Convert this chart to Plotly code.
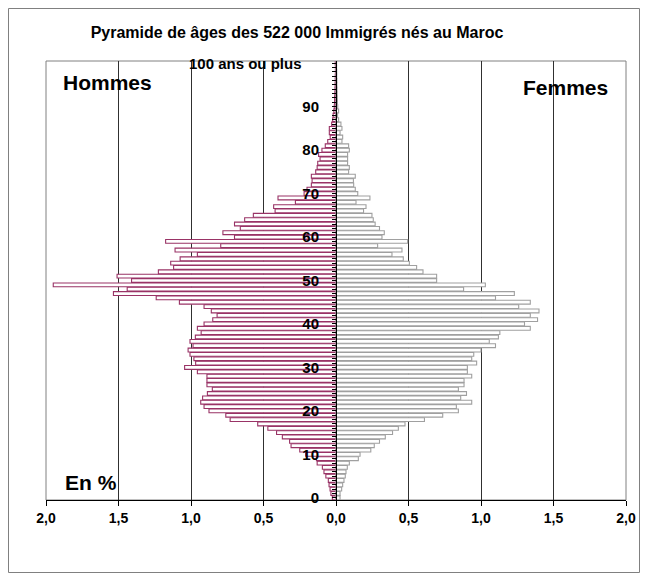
import plotly.graph_objects as go

ages = list(range(0, 101))

hommes = [
    0.025, 0.035, 0.041, 0.048, 0.053, 0.070, 0.083, 0.094, 0.130, 0.135,
    0.210, 0.250, 0.310, 0.320, 0.370, 0.410, 0.470, 0.540, 0.730, 0.760,
    0.876, 0.910, 0.933, 0.920, 0.887, 0.853, 0.890, 0.890, 0.890, 0.956,
    1.044, 0.968, 0.980, 1.007, 1.020, 0.986, 1.007, 0.970, 0.930, 0.956,
    0.910, 0.850, 0.820, 0.860, 0.910, 1.080, 1.240, 1.535, 1.440, 1.950,
    1.410, 1.510, 1.225, 1.120, 1.140, 1.075, 0.956, 1.110, 0.795, 1.175,
    0.700, 0.780, 0.660, 0.700, 0.630, 0.570, 0.420, 0.430, 0.280, 0.400,
    0.220, 0.200, 0.170, 0.165, 0.170, 0.140, 0.130, 0.126, 0.110, 0.120,
    0.097, 0.074, 0.057, 0.040, 0.046, 0.046, 0.030, 0.023, 0.020, 0.015,
    0.012, 0.010, 0.010, 0.008, 0.007, 0.006, 0.005, 0.005, 0.004, 0.004,
    0.005,
]

femmes = [
    0.028, 0.028, 0.039, 0.046, 0.055, 0.064, 0.069, 0.078, 0.092, 0.154,
    0.166, 0.240, 0.264, 0.300, 0.340, 0.390, 0.430, 0.476, 0.610, 0.736,
    0.844, 0.830, 0.936, 0.860, 0.900, 0.844, 0.883, 0.883, 0.936, 0.906,
    0.906, 0.970, 0.936, 0.950, 1.000, 1.100, 1.057, 1.120, 1.130, 1.340,
    1.300, 1.390, 1.340, 1.400, 1.260, 1.340, 1.100, 1.230, 0.880, 1.030,
    0.694, 0.694, 0.600, 0.556, 0.506, 0.464, 0.386, 0.455, 0.287, 0.494,
    0.317, 0.333, 0.300, 0.270, 0.257, 0.248, 0.190, 0.207, 0.138, 0.234,
    0.150, 0.133, 0.122, 0.120, 0.133, 0.087, 0.092, 0.080, 0.080, 0.080,
    0.092, 0.087, 0.041, 0.046, 0.028, 0.041, 0.034, 0.018, 0.011, 0.018,
    0.012, 0.010, 0.009, 0.008, 0.007, 0.006, 0.006, 0.005, 0.005, 0.004,
    0.004,
]

age_labels = {a: str(a) for a in range(0, 100, 10)}
top_label = "100 ans ou plus"

x_ticks = [-2.0, -1.5, -1.0, -0.5, 0.0, 0.5, 1.0, 1.5, 2.0]
x_ticktext = ["2,0", "1,5", "1,0", "0,5", "0,0", "0,5", "1,0", "1,5", "2,0"]

FONT = "Liberation Sans, Arial, sans-serif"
MEN_COLOR = "#993366"
WOMEN_COLOR = "#A0A0A0"

W, H = 648, 581
L, R, T, B = 46, 22, 61, 81
PW, PH = W - L - R, H - T - B  # 580 x 439


def px(xpage):
    return (xpage - L) / PW


def py(ypage):
    return (H - B - ypage) / PH


fig = go.Figure()
fig.add_trace(go.Bar(
    y=ages, x=[-v for v in hommes], orientation="h", name="Hommes",
    marker=dict(color="white", line=dict(color=MEN_COLOR, width=1.1)),
    hoverinfo="skip",
))
fig.add_trace(go.Bar(
    y=ages, x=femmes, orientation="h", name="Femmes",
    marker=dict(color="white", line=dict(color=WOMEN_COLOR, width=1.1)),
    hoverinfo="skip",
))

tickvals = ages
ticktext = [age_labels.get(a, "") for a in ages]

fig.update_layout(
    width=W, height=H,
    margin=dict(l=L, r=R, t=T, b=B, autoexpand=False),
    paper_bgcolor="white", plot_bgcolor="white",
    barmode="overlay", bargap=0.12,
    showlegend=False,
    font=dict(family=FONT, color="black"),
    xaxis=dict(
        range=[-2.0, 2.0], tickvals=x_ticks, ticktext=x_ticktext,
        showgrid=True, gridcolor="#303030", gridwidth=1,
        zeroline=False, showline=True, linecolor="black", linewidth=1,
        ticks="outside", ticklen=5, tickcolor="black",
        tickfont=dict(family=FONT, size=14, weight="bold"),
        fixedrange=True,
    ),
    yaxis=dict(
        range=[-0.5, 100.5], tickvals=tickvals, ticktext=ticktext,
        anchor="free", position=0.5, side="left",
        showgrid=False, zeroline=False,
        showline=True, linecolor="black", linewidth=1,
        ticks="outside", ticklen=4, tickcolor="black",
        ticklabelstandoff=10,
        tickfont=dict(family=FONT, size=15, weight="bold"),
        fixedrange=True,
    ),
    yaxis2=dict(
        range=[-0.5, 100.5], tickvals=tickvals, overlaying="y",
        anchor="free", position=0.5, side="right",
        showgrid=False, zeroline=False, showline=False,
        ticks="outside", ticklen=2, tickcolor="black",
        showticklabels=False, fixedrange=True,
    ),
    title=dict(
        text="Pyramide de âges des 522 000 Immigrés nés au Maroc",
        x=px(297), xref="paper", xanchor="center",
        y=1 - 32 / H, yref="container", yanchor="middle",
        font=dict(family=FONT, size=16, weight="bold", color="black"),
    ),
    shapes=[
        dict(type="rect", xref="paper", yref="paper", x0=0, x1=1, y0=0, y1=1,
             line=dict(color="#808080", width=1), layer="below"),
        dict(type="rect", xref="paper", yref="paper",
             x0=px(8.5), x1=px(639.5), y0=py(572.5), y1=py(8.5),
             line=dict(color="#808080", width=1)),
    ],
    annotations=[
        dict(text=top_label, xref="paper", yref="y",
             x=px(304), y=100, showarrow=False,
             xanchor="right", yanchor="middle",
             font=dict(family=FONT, size=15, weight="bold")),
        dict(text="Hommes", xref="paper", yref="paper",
             x=px(107), y=py(83), showarrow=False,
             xanchor="center", yanchor="middle",
             font=dict(family=FONT, size=21, weight="bold")),
        dict(text="Femmes", xref="paper", yref="paper",
             x=px(565), y=py(87), showarrow=False,
             xanchor="center", yanchor="middle",
             font=dict(family=FONT, size=21, weight="bold")),
        dict(text="En %", xref="paper", yref="paper",
             x=px(91), y=py(482), showarrow=False,
             xanchor="center", yanchor="middle",
             font=dict(family=FONT, size=21, weight="bold")),
    ],
)

post = ("document.body.style.margin='0';"
        "document.body.style.overflow='hidden';"
        "document.documentElement.style.overflow='hidden';")

fig.write_html("out.html", post_script=post,
               config={"displayModeBar": False, "staticPlot": True})
